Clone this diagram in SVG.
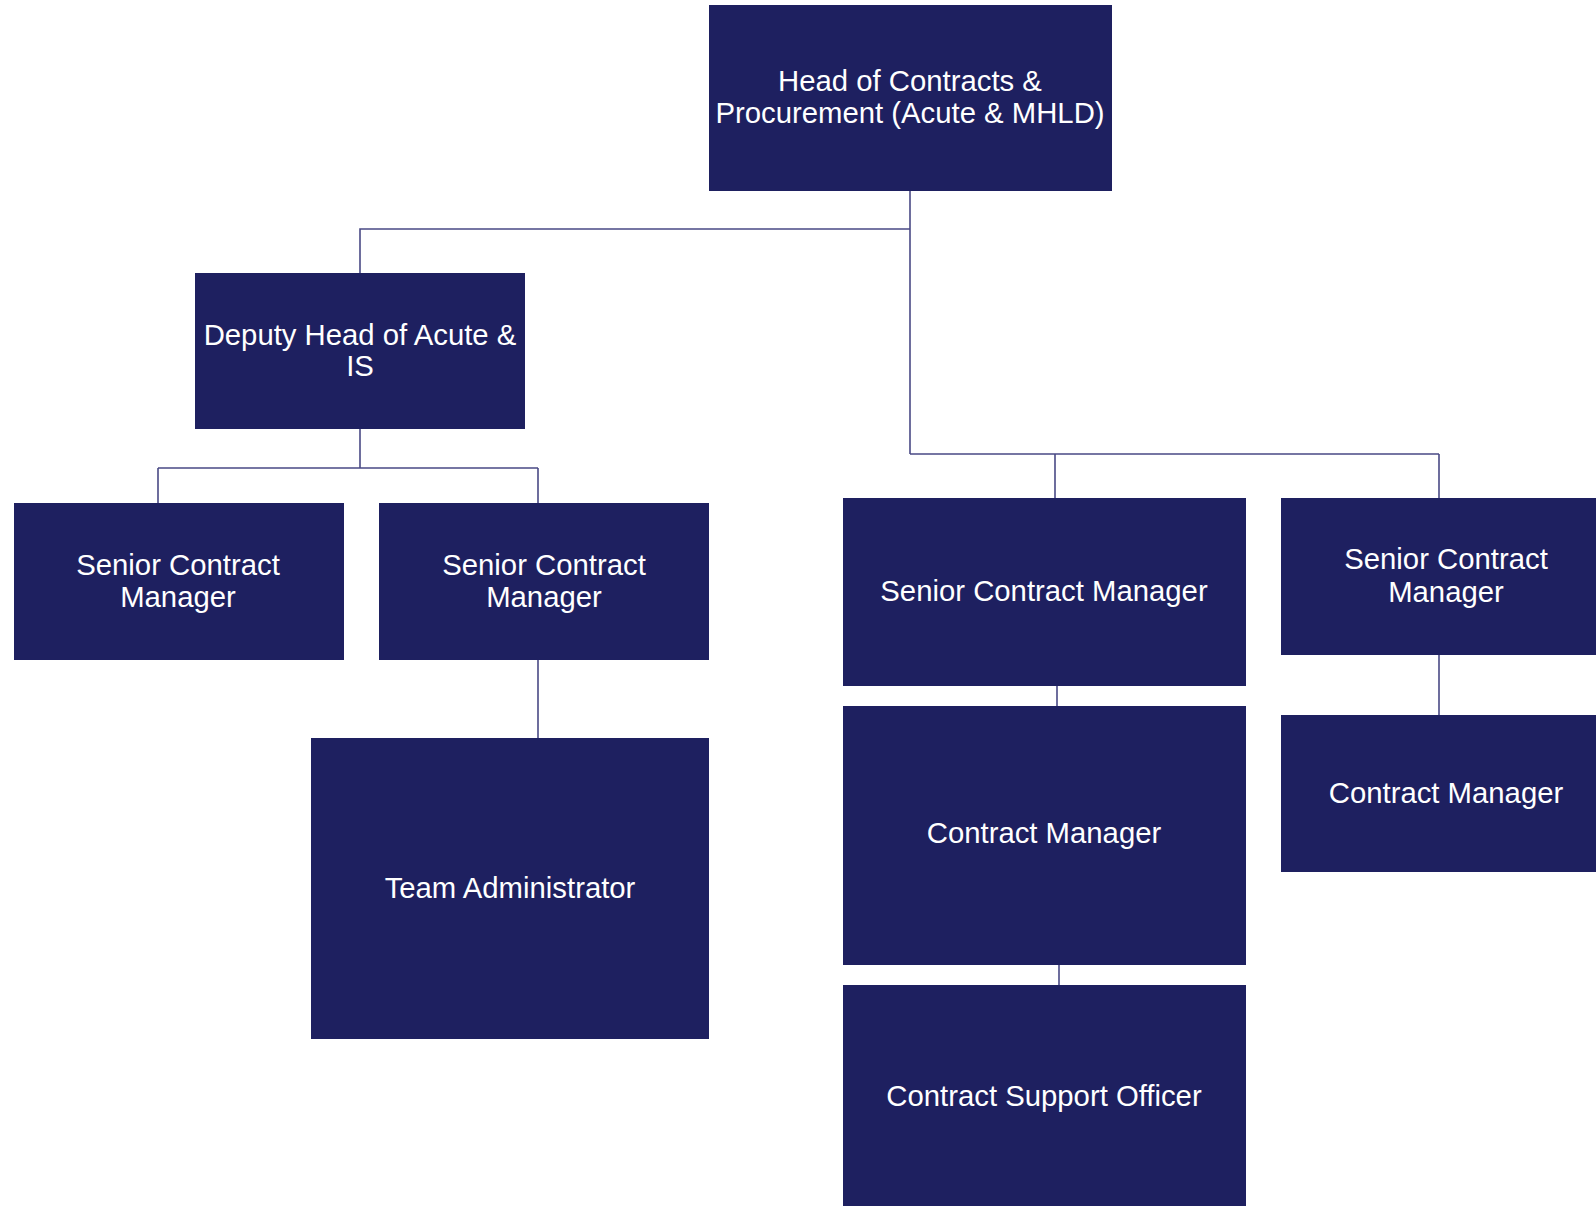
<svg xmlns="http://www.w3.org/2000/svg" width="1596" height="1206" viewBox="0 0 1596 1206">
<style>
.box{fill:#1e2060}
.lbl{fill:#ffffff;font-family:"Liberation Sans",Arial,sans-serif;font-size:29.3px;text-anchor:middle}
.conn{stroke:#4a4a85;stroke-width:1.6;fill:none}
</style>
<rect width="1596" height="1206" fill="#ffffff"/>
<g id="connectors">
<path class="conn" d="M910 191 V454 M910 229 H360 V273 M360 429 V468 M158 468 H538 M158 468 V503 M538 468 V503 M538 660 V738 M910 454 H1439 M1055 454 V498 M1439 454 V498 M1057 686 V706 M1059 965 V985 M1439 655 V715"/>
</g>
<g id="head">
<rect class="box" x="709" y="5" width="403" height="186"/>
<text class="lbl" x="910" y="91">Head of Contracts &amp;</text>
<text class="lbl" x="910" y="123">Procurement (Acute &amp; MHLD)</text>
</g>
<g id="deputy">
<rect class="box" x="195" y="273" width="330" height="156"/>
<text class="lbl" x="360" y="345">Deputy Head of Acute &amp;</text>
<text class="lbl" x="360" y="376">IS</text>
</g>
<g id="scm1">
<rect class="box" x="14" y="503" width="330" height="157"/>
<text class="lbl" x="178" y="575">Senior Contract</text>
<text class="lbl" x="178" y="607">Manager</text>
</g>
<g id="scm2">
<rect class="box" x="379" y="503" width="330" height="157"/>
<text class="lbl" x="544" y="575">Senior Contract</text>
<text class="lbl" x="544" y="607">Manager</text>
</g>
<g id="team-admin">
<rect class="box" x="311" y="738" width="398" height="301"/>
<text class="lbl" x="510" y="898">Team Administrator</text>
</g>
<g id="scm3">
<rect class="box" x="843" y="498" width="403" height="188"/>
<text class="lbl" x="1044" y="601">Senior Contract Manager</text>
</g>
<g id="scm4">
<rect class="box" x="1281" y="498" width="330" height="157"/>
<text class="lbl" x="1446" y="569">Senior Contract</text>
<text class="lbl" x="1446" y="602">Manager</text>
</g>
<g id="cm1">
<rect class="box" x="843" y="706" width="403" height="259"/>
<text class="lbl" x="1044" y="843">Contract Manager</text>
</g>
<g id="cm2">
<rect class="box" x="1281" y="715" width="330" height="157"/>
<text class="lbl" x="1446" y="803">Contract Manager</text>
</g>
<g id="cso">
<rect class="box" x="843" y="985" width="403" height="221"/>
<text class="lbl" x="1044" y="1106">Contract Support Officer</text>
</g>
</svg>
